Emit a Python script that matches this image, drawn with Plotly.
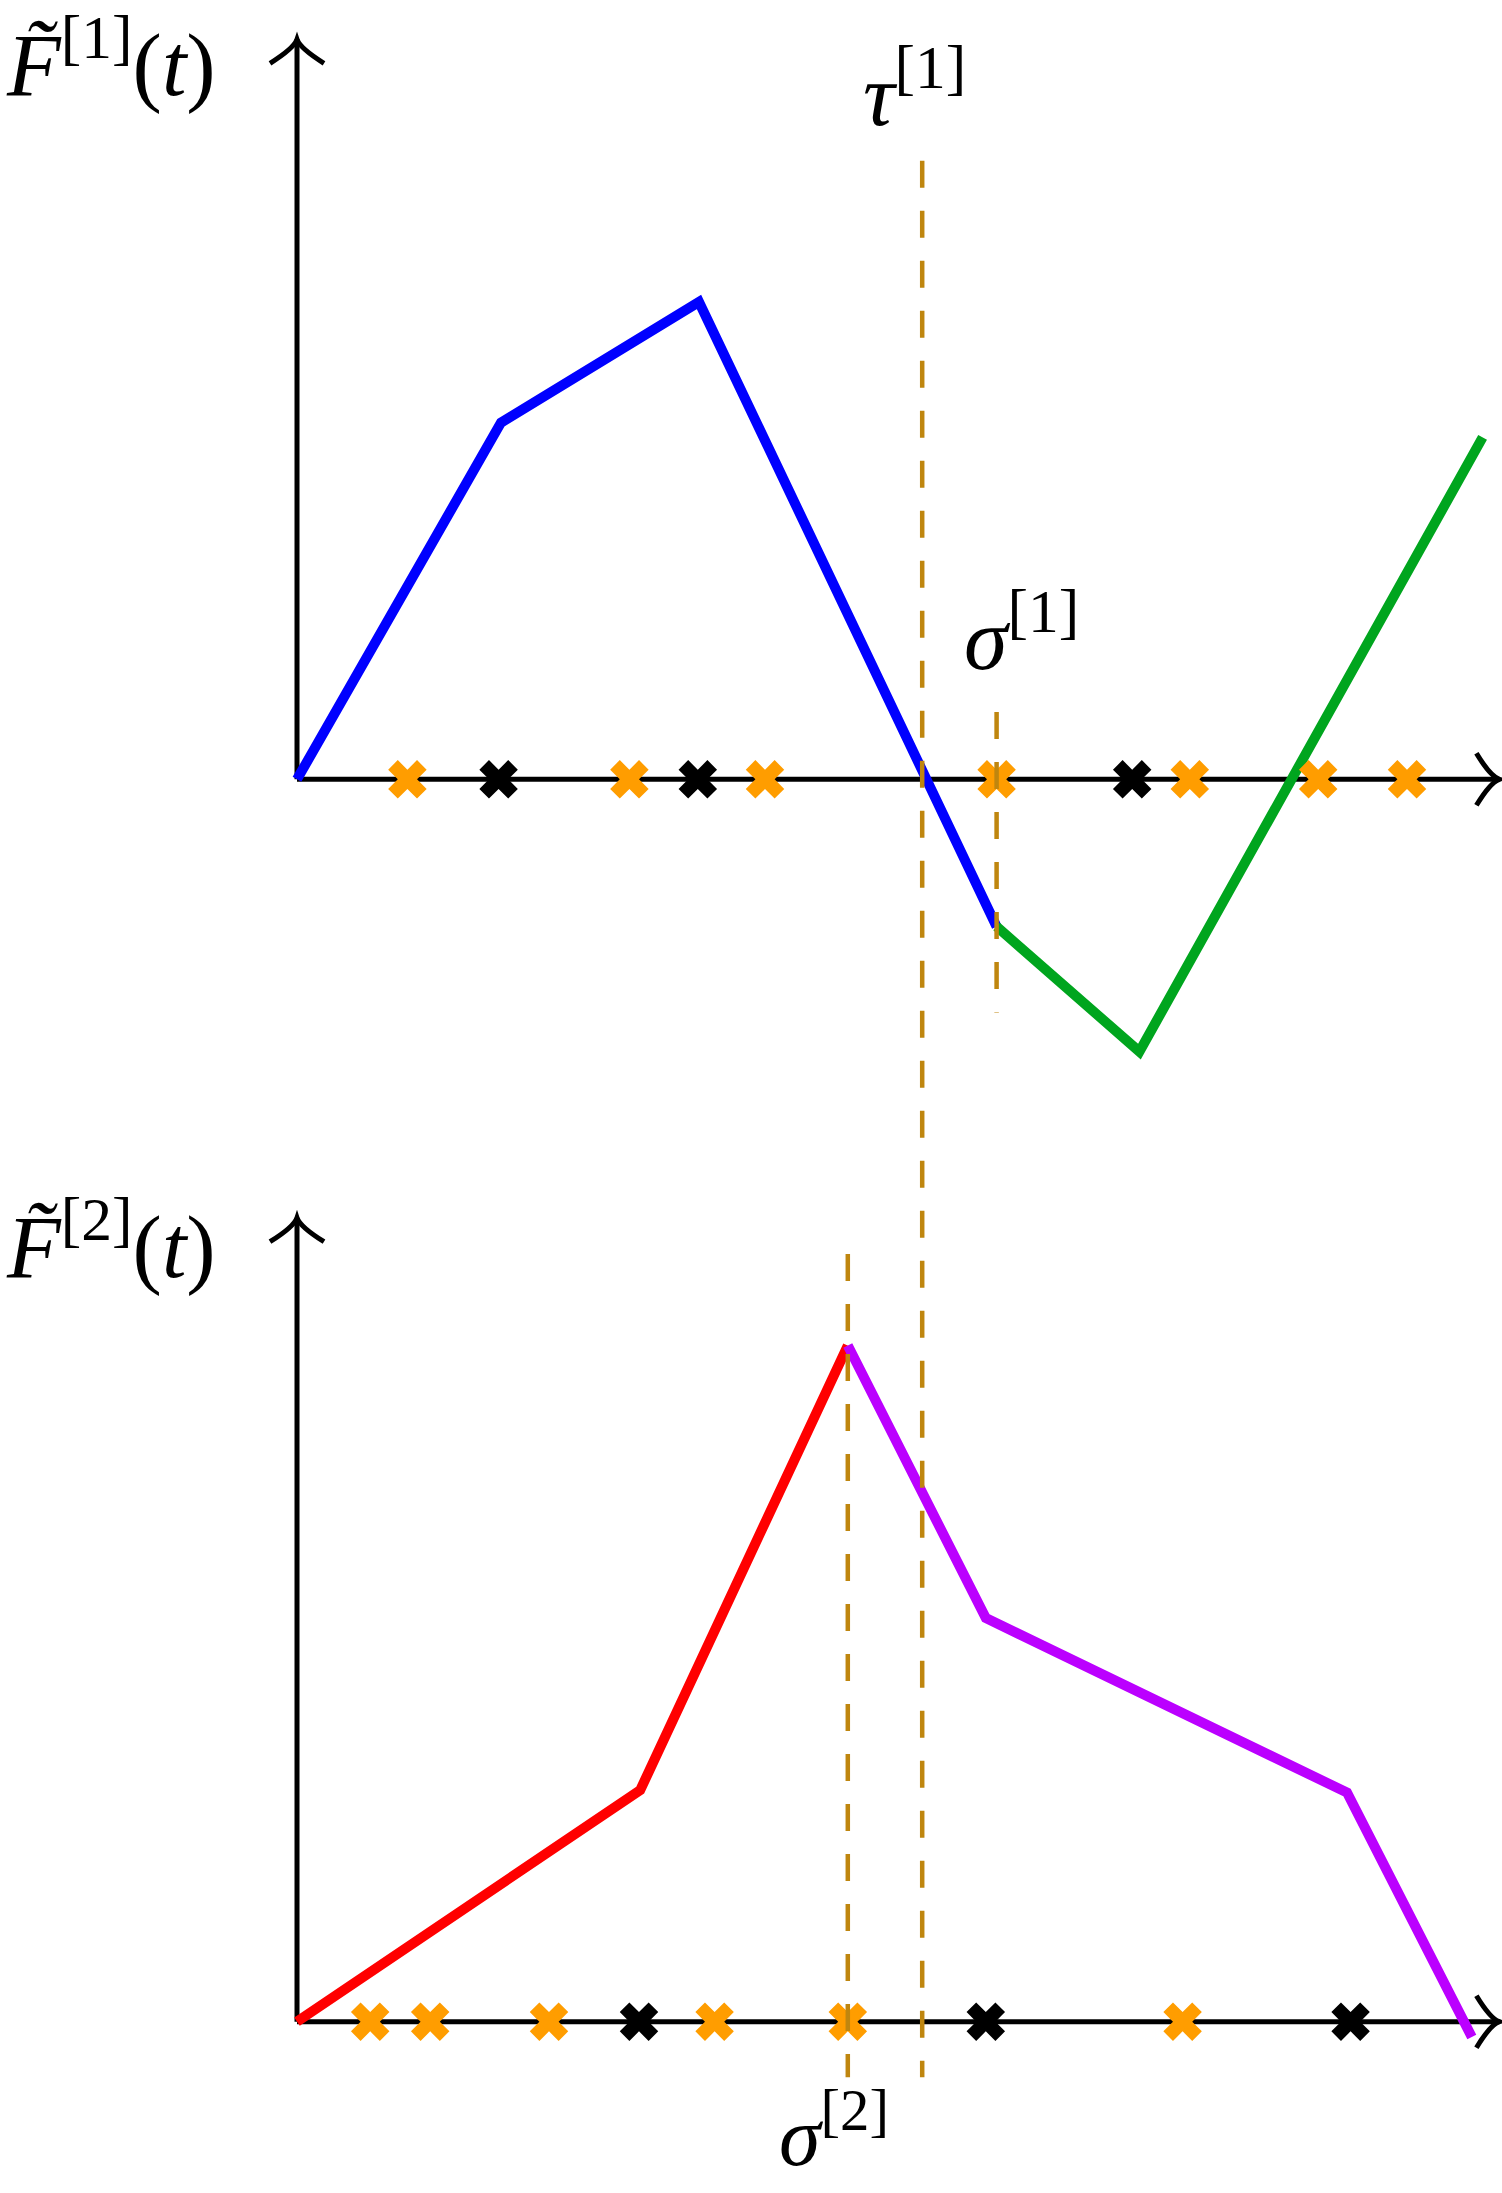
import plotly.graph_objects as go

W, H = 1502, 2193

# ---------------- data ----------------
t_blue = [0.0, 1.70, 3.35, 5.83]
F1_blue = [0.0, 4.82, 6.45, -1.99]
t_green = [5.83, 7.02, 9.88]
F1_green = [-1.99, -3.68, 4.62]

t_red = [0.0, 2.86, 4.59]
F2_red = [0.0, 2.88, 8.41]
t_purple = [4.59, 5.74, 8.75, 9.79]
F2_purple = [8.41, 5.02, 2.85, -0.19]

top_orange_t = [0.92, 2.77, 3.90, 5.83, 7.44, 8.51, 9.25]
top_black_t = [1.68, 3.34, 6.96]
bot_orange_t = [0.61, 1.11, 2.10, 3.48, 4.59, 7.38]
bot_black_t = [2.85, 5.74, 8.78]

tau1 = 5.21
sigma1 = 5.83
sigma2 = 4.59

T_MAX = 10.02      # end of t axis
F1_MAX = 10.0      # end of top vertical axis
F2_MAX = 10.0      # end of bottom vertical axis

# vertical extents of the dashed guide lines
tau1_top_F1 = 8.36
tau1_bottom_F2 = -0.69
sigma1_span_F1 = [0.91, -3.15]
sigma2_span_F2 = [9.55, -0.69]

# ---------------- layout mapping ----------------
X0_PX, X_UNIT = 297.0, 120.0
Y1_O_PX, Y1_UNIT = 779.3, 74.0
Y2_O_PX, Y2_UNIT = 2021.7, 80.4


def px_t(t):
    return X0_PX + t * X_UNIT


def py1(F):
    return Y1_O_PX - F * Y1_UNIT


def py2(F):
    return Y2_O_PX - F * Y2_UNIT


def PX(x):
    return x / W


def PY(y):
    return 1 - y / H


BLUE = "#0000FF"
GREEN = "#00A51E"
RED = "#FF0000"
PURPLE = "#BB00FF"
ORANGE = "#FF9D00"
DASH = "#BF860F"
LW = 10

fig = go.Figure()

fig.add_trace(go.Scatter(x=t_blue, y=F1_blue, mode="lines",
                         line=dict(color=BLUE, width=LW), yaxis="y"))
fig.add_trace(go.Scatter(x=t_green, y=F1_green, mode="lines",
                         line=dict(color=GREEN, width=LW), yaxis="y"))
fig.add_trace(go.Scatter(x=t_red, y=F2_red, mode="lines",
                         line=dict(color=RED, width=LW), yaxis="y2"))
fig.add_trace(go.Scatter(x=t_purple, y=F2_purple, mode="lines",
                         line=dict(color=PURPLE, width=LW), yaxis="y2"))

MS = 34
fig.add_trace(go.Scatter(x=top_orange_t, y=[0] * len(top_orange_t), mode="markers",
                         marker=dict(symbol="x", size=MS, color=ORANGE, line=dict(width=0)),
                         yaxis="y"))
fig.add_trace(go.Scatter(x=top_black_t, y=[0] * len(top_black_t), mode="markers",
                         marker=dict(symbol="x", size=MS, color="black", line=dict(width=0)),
                         yaxis="y"))
fig.add_trace(go.Scatter(x=bot_orange_t, y=[0] * len(bot_orange_t), mode="markers",
                         marker=dict(symbol="x", size=MS, color=ORANGE, line=dict(width=0)),
                         yaxis="y2"))
fig.add_trace(go.Scatter(x=bot_black_t, y=[0] * len(bot_black_t), mode="markers",
                         marker=dict(symbol="x", size=MS, color="black", line=dict(width=0)),
                         yaxis="y2"))

shapes = []
AW = 5
# axes lines
shapes.append(dict(type="line", xref="x", yref="y", x0=0, y0=0, x1=T_MAX, y1=0,
                   line=dict(color="black", width=AW), layer="below"))
shapes.append(dict(type="line", xref="x", yref="y", x0=0, y0=0, x1=0, y1=F1_MAX,
                   line=dict(color="black", width=AW), layer="below"))
shapes.append(dict(type="line", xref="x", yref="y2", x0=0, y0=0, x1=T_MAX, y1=0,
                   line=dict(color="black", width=AW), layer="below"))
shapes.append(dict(type="line", xref="x", yref="y2", x0=0, y0=0, x1=0, y1=F2_MAX,
                   line=dict(color="black", width=AW), layer="below"))


def arrow_right(tx, ty):
    p = (f"M {PX(tx-23)},{PY(ty-26)} Q {PX(tx-9)},{PY(ty-3)} {PX(tx)},{PY(ty)} "
         f"Q {PX(tx-9)},{PY(ty+3)} {PX(tx-23)},{PY(ty+26)}")
    return dict(type="path", xref="paper", yref="paper", path=p,
                line=dict(color="black", width=AW))


def arrow_up(tx, ty):
    p = (f"M {PX(tx-27)},{PY(ty+24)} Q {PX(tx-3)},{PY(ty+9)} {PX(tx)},{PY(ty)} "
         f"Q {PX(tx+3)},{PY(ty+9)} {PX(tx+27)},{PY(ty+24)}")
    return dict(type="path", xref="paper", yref="paper", path=p,
                line=dict(color="black", width=AW))


shapes.append(arrow_right(px_t(T_MAX), py1(0)))
shapes.append(arrow_up(px_t(0), py1(F1_MAX)))
shapes.append(arrow_right(px_t(T_MAX), py2(0)))
shapes.append(arrow_up(px_t(0), py2(F2_MAX)))

DL = dict(color=DASH, width=4.5, dash="27px,23px")
shapes.append(dict(type="line", xref="x", yref="paper", x0=tau1, x1=tau1,
                   y0=PY(py1(tau1_top_F1)), y1=PY(py2(tau1_bottom_F2)), line=DL))
shapes.append(dict(type="line", xref="x", yref="y", x0=sigma1, x1=sigma1,
                   y0=sigma1_span_F1[0], y1=sigma1_span_F1[1], line=DL))
shapes.append(dict(type="line", xref="x", yref="y2", x0=sigma2, x1=sigma2,
                   y0=sigma2_span_F2[0], y1=sigma2_span_F2[1], line=DL))

FONT = dict(family="Liberation Serif", size=88, color="black")
ann = []


def label(text, cx, cy, xanchor="center", size=88):
    f = dict(FONT)
    f["size"] = size
    ann.append(dict(text=text, xref="paper", yref="paper", x=PX(cx), y=PY(cy),
                    xanchor=xanchor, yanchor="middle", showarrow=False, font=f))


label("<i>F\u0303</i><sup>[1]</sup>(<i>t</i>)", 4, 58, xanchor="left")
label("<i>F\u0303</i><sup>[2]</sup>(<i>t</i>)", 4, 1240, xanchor="left")
label("<i>\u03c4</i><sup>[1]</sup>", 914, 88)
label("<i>\u03c3</i><sup>[1]</sup>", 1021, 632)
label("<i>\u03c3</i><sup>[2]</sup>", 834, 2130, size=84)

fig.update_layout(
    width=W, height=H, autosize=False,
    margin=dict(l=0, r=0, t=0, b=0, pad=0),
    paper_bgcolor="white", plot_bgcolor="white",
    showlegend=False, hovermode=False,
    xaxis=dict(domain=[0, 1], range=[(0 - X0_PX) / X_UNIT, (W - X0_PX) / X_UNIT],
               visible=False, fixedrange=True),
    yaxis=dict(domain=[0, 1], range=[(Y1_O_PX - H) / Y1_UNIT, Y1_O_PX / Y1_UNIT],
               visible=False, fixedrange=True),
    yaxis2=dict(domain=[0, 1], range=[(Y2_O_PX - H) / Y2_UNIT, Y2_O_PX / Y2_UNIT],
                overlaying="y", visible=False, fixedrange=True),
    shapes=shapes,
    annotations=ann,
)

fig.write_html("out.html", config={"displayModeBar": False},
               post_script="document.body.style.margin='0';document.body.style.overflow='hidden';")
